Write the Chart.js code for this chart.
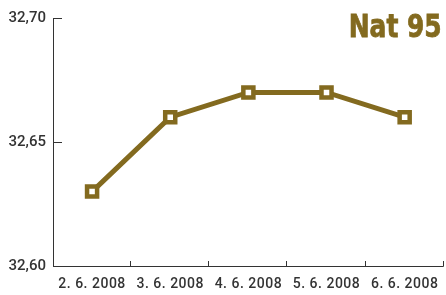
<!DOCTYPE html>
<html><head><meta charset="utf-8">
<script src="https://cdn.jsdelivr.net/npm/chart.js@4"></script>
<style>html,body{margin:0;padding:0;background:#fff}#w{width:446px;height:295px}</style>
</head><body><div id="w"><canvas id="c"></canvas></div>
<script>
const categories = ["2. 6. 2008", "3. 6. 2008", "4. 6. 2008", "5. 6. 2008", "6. 6. 2008"];
const prices = [32.63, 32.66, 32.67, 32.67, 32.66];
const yTicks = [32.60, 32.65, 32.70];
const titleText = "Nat 95";
const brown = "#836a1f";
const axisColor = "#333333";

function spaced(spacing) {
  return function (s) {
    if (s._spacedWrap) return;
    const orig = s.drawLabels.bind(s);
    s.drawLabels = function (ca) {
      const c = this.ctx; c.save(); c.letterSpacing = spacing; orig(ca); c.restore();
    };
    s._spacedWrap = true;
  };
}

const axesPlugin = {
  id: 'axesPlugin',
  afterDraw(chart) {
    const ctx = chart.ctx, x = chart.scales.x, y = chart.scales.y, a = chart.chartArea;
    ctx.save();
    ctx.strokeStyle = axisColor; ctx.lineWidth = 1;
    ctx.beginPath();
    ctx.moveTo(a.left + 0.5, a.top); ctx.lineTo(a.left + 0.5, a.bottom + 0.5); ctx.lineTo(a.right, a.bottom + 0.5);
    yTicks.forEach(v => { const py = Math.round(y.getPixelForValue(v)) + 0.5; ctx.moveTo(a.left, py); ctx.lineTo(a.left + 9, py); });
    const half = (x.getPixelForValue(1) - x.getPixelForValue(0)) / 2;
    for (let i = 1; i <= categories.length; i++) {
      const px = Math.round(i < categories.length ? x.getPixelForValue(i) - half : a.right) - 0.5;
      ctx.moveTo(px, a.bottom); ctx.lineTo(px, a.bottom - 5);
    }
    ctx.stroke();
    ctx.fillStyle = brown;
    ctx.strokeStyle = brown; ctx.lineWidth = 0.8;
    ctx.font = "bold 32px 'DejaVu Sans', sans-serif";
    ctx.textAlign = 'right'; ctx.textBaseline = 'alphabetic';
    ctx.translate(a.right - 2, 37);
    ctx.scale(0.78, 1);
    ctx.fillText(titleText, 0, 0);
    ctx.strokeText(titleText, 0, 0);
    ctx.restore();
  }
};

new Chart(document.getElementById('c'), {
  type: 'line',
  data: { labels: categories, datasets: [{
    data: prices, borderColor: brown, borderWidth: 5, tension: 0,
    pointStyle: 'rect', pointRadius: 7.1, pointHoverRadius: 7.1, pointBorderWidth: 4.5,
    pointBackgroundColor: '#ffffff', pointBorderColor: brown
  }]},
  options: {
    responsive: true, maintainAspectRatio: false, animation: false,
    layout: { autoPadding: false, padding: { top: 18, right: 1, left: 0, bottom: 0 } },
    plugins: { legend: { display: false }, tooltip: { enabled: false } },
    scales: {
      x: { offset: true, grid: { display: false, drawTicks: false, tickLength: 0 }, border: { display: false },
        afterFit(s) { s.height = 29; },
        afterUpdate: spaced('0.5px'),
        ticks: { color: axisColor, padding: 10, maxRotation: 0, autoSkip: false,
          font: { family: "Roboto, sans-serif", size: 14, weight: '500' } } },
      y: { min: 32.60, max: 32.70, grid: { display: false, drawTicks: false, tickLength: 0 }, border: { display: false },
        afterFit(s) { s.width = 53; },
        afterBuildTicks(s) { s.ticks = yTicks.map(v => ({ value: v })); },
        ticks: { color: axisColor, padding: 7,
          font: { family: "Roboto, sans-serif", size: 15, weight: '500' },
          callback: v => v.toFixed(2).replace('.', ',') } }
    }
  },
  plugins: [axesPlugin]
});
</script></body></html>
